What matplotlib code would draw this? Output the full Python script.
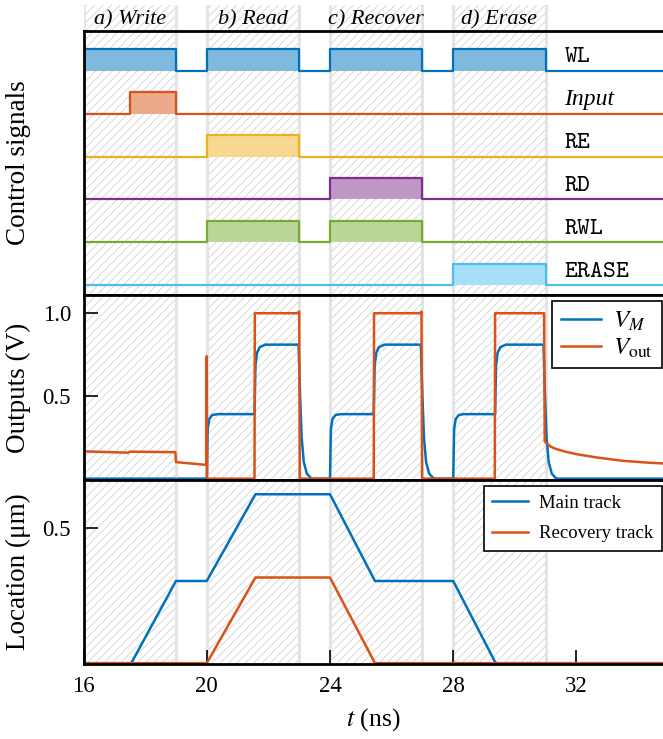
import matplotlib
matplotlib.use("Agg")
import matplotlib.pyplot as plt
import matplotlib.colors as mcolors

plt.rcParams["font.family"] = ["Liberation Serif", "DejaVu Serif"]
plt.rcParams["mathtext.fontset"] = "stix"
plt.rcParams["hatch.linewidth"] = 0.6

COLORS = ["#0072BD", "#D95319", "#EDB120", "#7E2F8E", "#77AC30", "#4DBEEE"]

T_MIN = 16
T_MAX = 34.81

# phases of the operation
PHASE_NAMES = ["a) Write", "b) Read", "c) Recover", "d) Erase"]
PHASE_START = [16, 20, 24, 28]
PHASE_END = [19, 23, 27, 31]

# control signals, top to bottom, with their high intervals (ns)
SIGNAL_NAMES = ["WL", "Input", "RE", "RD", "RWL", "ERASE"]
SIGNAL_HIGH = [
    [(16, 19), (20, 23), (24, 27), (28, 31)],
    [(17.5, 19)],
    [(20, 23)],
    [(24, 27)],
    [(20, 23), (24, 27)],
    [(28, 31)],
]

# outputs (V)
VM_T = [16, 18.97, 19.0, 19.05, 20.0,
        20.0, 20.03, 20.08, 20.18, 20.35, 21.55, 21.58, 21.63, 21.72, 21.9,
        22.98, 23.03, 23.08, 23.15, 23.25, 23.4,
        24.0, 24.03, 24.08, 24.18, 24.35, 25.42, 25.45, 25.5, 25.59, 25.77,
        26.95, 27.0, 27.05, 27.12, 27.22, 27.37,
        28.0, 28.03, 28.08, 28.18, 28.35, 29.36, 29.39, 29.44, 29.53, 29.71,
        30.93, 30.98, 31.03, 31.1, 31.2, 31.35, 35]
VM_V = [0, 0, -0.012, 0, 0,
        0, 0.30, 0.36, 0.385, 0.39, 0.39, 0.68, 0.76, 0.795, 0.81,
        0.81, 0.5, 0.25, 0.1, 0.03, 0,
        0, 0.30, 0.36, 0.385, 0.39, 0.39, 0.68, 0.76, 0.795, 0.81,
        0.81, 0.5, 0.25, 0.1, 0.03, 0,
        0, 0.30, 0.36, 0.385, 0.39, 0.39, 0.68, 0.76, 0.795, 0.81,
        0.81, 0.5, 0.25, 0.1, 0.03, 0, 0]

VOUT_T = [16, 17.45, 17.5, 18.98, 19.0, 19.99, 20.0, 20.01,
          21.55, 21.56, 22.98, 23.0, 23.02, 23.05,
          25.42, 25.43, 26.95, 26.97, 26.99,
          29.35, 29.36, 30.95, 30.97, 31.15, 31.3, 31.6,
          32.0, 32.7, 33.5, 34.3, 35]
VOUT_V = [0.165, 0.157, 0.163, 0.16, 0.10, 0.083, 0.74, 0.0,
          0.0, 1.0, 1.0, 1.01, -0.01, 0.0,
          0.0, 1.0, 1.0, 1.01, 0.0,
          0.0, 1.0, 1.0, 0.225, 0.195, 0.182, 0.165,
          0.148, 0.127, 0.108, 0.097, 0.09]

# location (um)
MAIN_T = [16, 17.55, 19.0, 20.0, 21.58, 24.0, 25.46, 28.0, 29.38, 35]
MAIN_X = [0, 0, 0.305, 0.305, 0.627, 0.627, 0.305, 0.305, 0, 0]
REC_T = [16, 20.0, 21.58, 24.0, 25.46, 35]
REC_X = [0, 0, 0.318, 0.318, 0, 0]

YLABEL_X = -0.09


def lighten(color, amount=0.5):
    r, g, b = mcolors.to_rgb(color)
    return (1 - amount * (1 - r), 1 - amount * (1 - g), 1 - amount * (1 - b))


def add_phases(ax):
    for start, end in zip(PHASE_START, PHASE_END):
        ax.axvspan(start, end, facecolor="none", edgecolor="#d2d2d2",
                   hatch="////", linewidth=0, zorder=0)
        for x in (start, end):
            ax.axvline(x, color="#e4e4e4", linewidth=2.2, zorder=0.5)


def style_axes(ax):
    for side in ("left", "bottom", "top"):
        ax.spines[side].set_linewidth(2.0)
    ax.spines["right"].set_visible(False)
    ax.tick_params(direction="in", length=10, width=1.2, labelsize=16.5,
                   top=False, right=False, pad=9)
    ax.set_xlim(T_MIN, T_MAX)


def step_wave(highs, low, high):
    ts, vs = [T_MIN], [low]
    for a, b in highs:
        ts += [a, a, b, b]
        vs += [low, high, high, low]
    ts.append(T_MAX + 1)
    vs.append(low)
    if ts[1] == T_MIN:
        ts, vs = ts[1:], vs[1:]
    return ts, vs


def main() -> None:
    fig = plt.figure(figsize=(6.63, 7.39), dpi=100)

    left, width = 0.126, 0.874
    ax_head = fig.add_axes([left, 0.958, width, 0.0352])
    ax_sig = fig.add_axes([left, 0.6008, width, 0.3572])
    ax_out = fig.add_axes([left, 0.3505, width, 0.2503])
    ax_loc = fig.add_axes([left, 0.1015, width, 0.249])

    # header with phase names
    ax_head.set_xlim(T_MIN, T_MAX)
    ax_head.set_ylim(0, 1)
    ax_head.axis("off")
    add_phases(ax_head)
    for name, start, end in zip(PHASE_NAMES, PHASE_START, PHASE_END):
        ax_head.text((start + end) / 2, 0.42, name, ha="center", va="center",
                     fontsize=16, style="italic")

    # control signals
    add_phases(ax_sig)
    style_axes(ax_sig)
    n = len(SIGNAL_NAMES)
    for i, (name, highs) in enumerate(zip(SIGNAL_NAMES, SIGNAL_HIGH)):
        base = n - 1 - i
        color = COLORS[i]
        ts, vs = step_wave(highs, base, base + 0.5)
        for a, b in highs:
            ax_sig.fill_between([a, b], base, base + 0.5,
                                color=lighten(color, 0.5), linewidth=0, zorder=1)
        ax_sig.plot(ts, vs, color=color, linewidth=1.6, zorder=2)
        if name == "Input":
            ax_sig.text(31.6, base + 0.33, name, fontsize=17, style="italic",
                        va="center", ha="left")
        else:
            ax_sig.text(31.6, base + 0.33, r"$\mathtt{" + name + "}$",
                        fontsize=17.5, math_fontfamily="cm",
                        va="center", ha="left")
    ax_sig.set_ylim(-0.23, n - 1 + 0.93)
    ax_sig.set_yticks([])
    ax_sig.set_xticks([])
    ax_sig.set_ylabel("Control signals", fontsize=19.5)
    ax_sig.yaxis.set_label_coords(YLABEL_X, 0.5)

    # outputs
    add_phases(ax_out)
    style_axes(ax_out)
    ax_out.plot(VM_T, VM_V, color=COLORS[0], linewidth=1.8, label=r"$V_M$", zorder=2)
    ax_out.plot(VOUT_T, VOUT_V, color=COLORS[1], linewidth=1.8,
                label=r"$V_{\rm out}$", zorder=2)
    ax_out.set_ylim(-0.008, 1.11)
    ax_out.set_yticks([0.5, 1.0])
    ax_out.set_yticklabels(["0.5", "1.0"])
    ax_out.set_xticks([])
    ax_out.set_ylabel("Outputs (V)", fontsize=19.5)
    ax_out.yaxis.set_label_coords(YLABEL_X, 0.5)
    leg = ax_out.legend(loc="upper right", bbox_to_anchor=(0.998, 0.97),
                        fontsize=18, frameon=True, fancybox=False,
                        edgecolor="black", framealpha=1, borderaxespad=0,
                        handlelength=1.6, handletextpad=0.5, labelspacing=0.15,
                        borderpad=0.35)
    leg.get_frame().set_linewidth(1.2)

    # location
    add_phases(ax_loc)
    style_axes(ax_loc)
    ax_loc.plot(MAIN_T, MAIN_X, color=COLORS[0], linewidth=1.8,
                label="Main track", zorder=2)
    ax_loc.plot(REC_T, REC_X, color=COLORS[1], linewidth=1.8,
                label="Recovery track", zorder=2)
    ax_loc.set_ylim(-0.003, 0.68)
    ax_loc.set_yticks([0.5])
    ax_loc.set_yticklabels(["0.5"])
    ax_loc.set_xticks([16, 20, 24, 28, 32])
    ax_loc.set_ylabel("Location (μm)", fontsize=19.5)
    ax_loc.yaxis.set_label_coords(YLABEL_X, 0.5)
    ax_loc.set_xlabel(r"$t$ (ns)", fontsize=18.5, labelpad=6)
    leg = ax_loc.legend(loc="upper right", bbox_to_anchor=(0.998, 0.967),
                        fontsize=13.5, frameon=True, fancybox=False,
                        edgecolor="black", framealpha=1, borderaxespad=0,
                        handlelength=1.9, handletextpad=0.6, labelspacing=0.72,
                        borderpad=0.45)
    leg.get_frame().set_linewidth(1.2)

    fig.savefig("out.png", dpi=100)


if __name__ == "__main__":
    main()
